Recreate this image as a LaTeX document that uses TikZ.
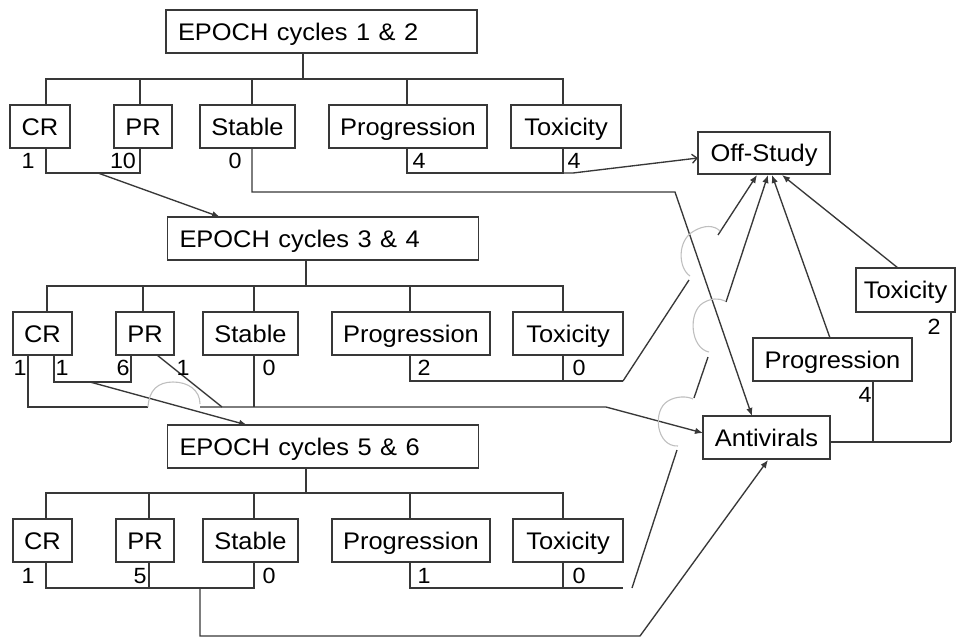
\documentclass[tikz,border=0pt]{standalone}
\usepackage{fontspec}
\setmainfont{Liberation Sans}
\usepackage{graphicx}
\usetikzlibrary{arrows.meta}
\newcommand{\wt}[1]{\scalebox{1.06}[1]{#1}}
\begin{document}
\begin{tikzpicture}[x=1pt,y=-1pt,
  ln/.style={draw=black!78, line width=1.35pt},
  arr/.style={ln, -{Latex[length=8pt,width=6.5pt]}},
  oarr/.style={ln, -{Straight Barb[length=5pt,width=9pt]}},
  bridge/.style={draw=black!25, line width=1.1pt},
  box/.style={draw=black!78, line width=1.35pt, fill=white, minimum height=43pt, inner sep=0pt,
    text height=17pt, text depth=0pt, font=\fontsize{24}{28}\selectfont},
  ebox/.style={box, minimum width=311pt, text width=287pt, align=left},
  num/.style={inner sep=0pt, text height=15.75pt, text depth=0pt, font=\fontsize{22}{26}\selectfont}]
\useasboundingbox (0,0) rectangle (956,640);

% ---------- Row 1 ----------
\node[ebox] (E12) at (321.5,31.5) {\wt{EPOCH cycles 1 \& 2}};
\node[box, minimum width=60pt]  (CR1) at (40,126.5)    {\wt{CR}};
\node[box, minimum width=58pt]  (PR1) at (143,126.5)   {\wt{PR}};
\node[box, minimum width=95pt]  (ST1) at (247.5,126.5) {\wt{Stable}};
\node[box, minimum width=158pt] (PG1) at (408,126.5)   {\wt{Progression}};
\node[box, minimum width=110pt] (TX1) at (566,126.5)   {\wt{Toxicity}};

% ---------- Row 2 ----------
\node[ebox] (E34) at (323,238.5) {\wt{EPOCH cycles 3 \& 4}};
\node[box, minimum width=59pt]  (CR2) at (42.5,333.5)  {\wt{CR}};
\node[box, minimum width=58pt]  (PR2) at (145,333.5)   {\wt{PR}};
\node[box, minimum width=95pt]  (ST2) at (250.5,333.5) {\wt{Stable}};
\node[box, minimum width=158pt] (PG2) at (411,333.5)   {\wt{Progression}};
\node[box, minimum width=110pt] (TX2) at (568,333.5)   {\wt{Toxicity}};

% ---------- Row 3 ----------
\node[ebox] (E56) at (323,446.5) {\wt{EPOCH cycles 5 \& 6}};
\node[box, minimum width=59pt]  (CR3) at (42.5,540.5)  {\wt{CR}};
\node[box, minimum width=58pt]  (PR3) at (145,540.5)   {\wt{PR}};
\node[box, minimum width=95pt]  (ST3) at (250.5,540.5) {\wt{Stable}};
\node[box, minimum width=158pt] (PG3) at (411,540.5)   {\wt{Progression}};
\node[box, minimum width=110pt] (TX3) at (568,540.5)   {\wt{Toxicity}};

% ---------- Right side ----------
\node[box, minimum width=132pt, minimum height=42pt] (OFF) at (764,153) {\wt{Off-Study}};
\node[box, minimum width=127pt] (ANT) at (766.5,437.5) {\wt{Antivirals}};
\node[box, minimum width=159pt] (PGR) at (832.5,359.5) {\wt{Progression}};
\node[box, minimum width=99pt, minimum height=44pt] (TXR) at (905.5,290) {\wt{Toxicity}};

% ---------- Row 1 connectors ----------
\draw[ln] (303,53) -- (303,79);
\draw[ln] (46,105) |- (563,79) -- (563,105);
\draw[ln] (140,79) -- (140,105) (252,79) -- (252,105) (407,79) -- (407,105);
\draw[ln] (46,148) |- (140,173) -- (140,148);
\draw[arr] (98,173) -- (220,217);
\draw[arr] (252,148) -- (252,192) -- (675,192) -- (752,416);
\draw[ln] (407,148) |- (563,173) -- (563,148);
\draw[oarr] (563,173) -- (573,173) -- (698,158);

% ---------- Row 2 connectors ----------
\draw[ln] (306,260) -- (306,286);
\draw[ln] (47,312) |- (563,286) -- (563,312);
\draw[ln] (143,286) -- (143,312) (254,286) -- (254,312) (410,286) -- (410,312);
\draw[ln] (28,355) |- (148,407);
\draw[arr] (200,407) -- (606,407) -- (703,433);
\draw[ln] (54,355) |- (131,382) -- (131,355);
\draw[arr] (90,382) -- (247,425);
\draw[ln] (157,355) -- (222,407);
\draw[ln] (254,355) -- (254,407);
\draw[ln] (410,355) |- (623,381);
\draw[ln] (563,355) -- (563,381);
\draw[ln] (623,381) -- (689,280);
\draw[arr] (718,235) -- (757,175);

% ---------- Row 3 connectors ----------
\draw[ln] (306,468) -- (306,493);
\draw[ln] (46,519) |- (563,493) -- (563,519);
\draw[ln] (149,493) -- (149,519) (254,493) -- (254,519) (410,493) -- (410,519);
\draw[ln] (46,562) |- (254,588) -- (254,562);
\draw[ln] (149,562) -- (149,588);
\draw[arr] (200,588) -- (200,636) -- (640,636) -- (768,460);
\draw[ln] (410,562) |- (623,588);
\draw[ln] (563,562) -- (563,588);
\draw[ln] (632,588) -- (677,450);
\draw[ln] (694,398) -- (708,357);
\draw[arr] (726,302) -- (768,175);

% ---------- Right connectors ----------
\draw[ln] (830,442) -- (951,442);
\draw[ln] (873,381) -- (873,442);
\draw[ln] (951,312) -- (951,442);
\draw[arr] (830,338) -- (772,175);
\draw[arr] (898,268) -- (782,175);

% ---------- bridges ----------
\draw[bridge] (148,407) .. controls (149,390) and (158,382) .. (173,382) .. controls (188,382) and (200,390) .. (200,404);
\draw[bridge] (690,276) .. controls (678,268) and (677,240) .. (694,231) .. controls (704,225) and (714,225) .. (720,231);
\draw[bridge] (678,446) .. controls (656,447) and (652,410) .. (668,401) .. controls (676,396) and (687,396) .. (693,399);
\draw[bridge] (709,352) .. controls (690,348) and (688,312) .. (703,303) .. controls (711,298) and (719,298) .. (725,301);

% ---------- numbers ----------
\node[num] (n11) at (28,161)  {\wt{1}};
\node[num] (n12) at (123,161) {\wt{10}};
\node[num] (n13) at (235,161) {\wt{0}};
\node[num] (n14) at (419,161) {\wt{4}};
\node[num] (n15) at (574,161) {\wt{4}};

\node[num] (n21) at (20,368)  {\wt{1}};
\node[num] (n22) at (62,368)  {\wt{1}};
\node[num] (n23) at (123,368) {\wt{6}};
\node[num] (n24) at (183,368) {\wt{1}};
\node[num] (n25) at (269,368) {\wt{0}};
\node[num] (n26) at (424,368) {\wt{2}};
\node[num] (n27) at (579,368) {\wt{0}};

\node[num] (n31) at (28,576)  {\wt{1}};
\node[num] (n32) at (140,576) {\wt{5}};
\node[num] (n33) at (269,576) {\wt{0}};
\node[num] (n34) at (424,576) {\wt{1}};
\node[num] (n35) at (579,576) {\wt{0}};

\node[num] (nr1) at (865,395) {\wt{4}};
\node[num] (nr2) at (934,327) {\wt{2}};
\end{tikzpicture}
\end{document}
